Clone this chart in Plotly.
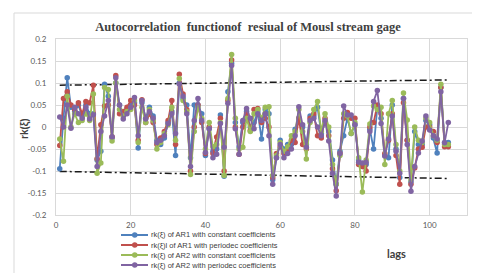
import plotly.graph_objects as go

lags = list(range(1, 106))

ar1_const = [-0.095, 0.02, 0.112, 0.045, 0.035, 0.05, 0.025, 0.05, 0.03, 0.03,
             -0.075, -0.055, 0.097, 0.07, -0.025, 0.1, 0.05, 0.03, 0.04, 0.05,
             0.055, -0.048, 0.055, 0.02, 0.045, 0.025, -0.03, -0.04, -0.025, 0.01,
             0.035, -0.065, 0.1, 0.065, 0.05, -0.07, 0.05, 0.05, 0.03, -0.065,
             -0.004, -0.055, -0.05, 0.027, -0.112, 0.08, 0.145, 0.01, -0.045, 0.01,
             0.035, 0.0, 0.01, 0.035, -0.027, 0.04, 0.03, -0.12, -0.07, -0.03,
             -0.05, -0.04, -0.04, -0.005, 0.02, 0.0, -0.04, 0.025, 0.025, 0.045,
             -0.015, 0.01, -0.01, -0.075, -0.13, -0.055, -0.02, 0.02, -0.015, 0.005,
             -0.075, -0.09, -0.085, -0.005, -0.05, 0.045, 0.02, -0.065, -0.07, 0.05,
             -0.05, -0.115, 0.065, -0.03, -0.125, -0.01, -0.04, -0.04, 0.015, 0.005,
             -0.025, -0.059, 0.09, -0.035, -0.035]

ar1_period = [-0.042, 0.065, 0.08, 0.05, 0.04, 0.055, 0.03, 0.058, 0.055, 0.095,
              -0.072, 0.005, 0.048, 0.05, -0.022, 0.117, 0.03, 0.035, 0.045, 0.06,
              0.05, -0.03, 0.062, 0.01, 0.03, 0.01, -0.04, -0.025, -0.01, 0.015,
              0.06, -0.04, 0.12, 0.075, 0.04, -0.1, 0.0, 0.05, 0.01, -0.06,
              0.0, -0.06, -0.023, 0.02, -0.1, 0.06, 0.152, 0.0, -0.062, 0.0,
              0.03, -0.008, 0.04, 0.042, 0.01, 0.02, 0.0, -0.115, -0.06, -0.045,
              -0.06, -0.05, -0.03, -0.035, 0.02, -0.04, -0.05, 0.02, 0.03, -0.02,
              -0.025, 0.02, -0.02, -0.095, -0.145, -0.06, 0.02, 0.033, 0.02, 0.02,
              -0.085, -0.09, -0.1, 0.0, 0.01, 0.05, 0.03, -0.06, -0.03, 0.03,
              -0.065, -0.13, 0.055, -0.03, -0.13, -0.093, -0.05, -0.046, 0.0, 0.0,
              -0.01, -0.035, 0.09, -0.045, -0.045]

ar2_const = [-0.027, -0.078, 0.07, 0.0, 0.03, 0.01, 0.015, 0.03, 0.015, 0.075,
             -0.105, -0.082, 0.09, 0.085, -0.032, 0.1, 0.04, 0.025, 0.035, 0.04,
             0.06, -0.035, 0.045, 0.01, 0.04, 0.015, -0.05, -0.035, -0.015, 0.005,
             0.045, -0.03, 0.11, 0.06, 0.035, -0.108, -0.01, 0.045, 0.02, -0.05,
             0.01, -0.045, -0.04, 0.01, -0.11, 0.065, 0.165, 0.02, -0.05, -0.046,
             0.02, -0.01, 0.03, 0.04, 0.02, 0.045, 0.046, -0.11, -0.065, -0.035,
             -0.055, -0.045, -0.02, -0.01, 0.04, -0.01, -0.073, 0.01, 0.04, 0.058,
             -0.01, 0.03, 0.0, -0.085, -0.13, -0.065, 0.03, 0.025, -0.015, 0.01,
             -0.07, -0.148, -0.075, 0.007, 0.048, 0.04, 0.045, -0.085, 0.03, 0.06,
             -0.04, -0.1, 0.077, 0.016, -0.12, 0.0, -0.03, -0.035, 0.02, 0.01,
             -0.02, -0.03, 0.097, -0.04, -0.04]

ar2_period = [0.023, 0.0, 0.05, -0.003, 0.045, 0.03, 0.02, 0.045, 0.018, 0.028,
              -0.09, -0.01, 0.025, 0.06, -0.022, 0.112, 0.05, 0.018, 0.03, 0.045,
              0.067, -0.02, 0.06, 0.018, 0.035, 0.02, -0.035, -0.03, -0.02, 0.008,
              0.03, -0.015, 0.098, 0.07, 0.03, -0.09, 0.015, 0.065, 0.015, -0.058,
              -0.004, -0.07, -0.062, 0.008, -0.046, 0.054, 0.14, -0.004, -0.062, 0.015,
              0.042, 0.02, -0.004, 0.03, 0.015, 0.03, -0.02, -0.13, -0.07, -0.04,
              -0.07, -0.06, -0.05, -0.02, 0.046, 0.005, -0.046, 0.015, 0.02, 0.0,
              -0.02, 0.015, -0.032, -0.105, -0.157, -0.06, 0.048, 0.027, 0.027, 0.005,
              -0.08, -0.082, -0.08, -0.01, 0.058, 0.083, 0.008, -0.066, -0.027, 0.025,
              -0.055, -0.105, 0.065, -0.04, -0.146, -0.09, -0.059, -0.032, 0.025, -0.007,
              -0.02, -0.027, 0.08, -0.036, 0.01]

limit_lags = [1, 105]
upper_limit = [0.095, 0.107]
lower_limit = [-0.101, -0.117]

series_names = [
    "rk(\u03be) of AR1 with constant coefficients",
    "rk(\u03be)l of AR1 with periodec coefficients",
    "rk(\u03be) of AR2 with constant coefficients",
    "rk(\u03be) of AR2 with periodec coefficients",
]
colors = ["#4F81BD", "#C0504D", "#9BBB59", "#8064A2"]

x_ticks = [0, 20, 40, 60, 80, 100]
y_ticks = [-0.2, -0.15, -0.1, -0.05, 0, 0.05, 0.1, 0.15, 0.2]
y_tick_labels = ["-0.2", "-0.15", "-0.1", "-0.05", "0", "0.05", "0.1", "0.15", "0.2"]

W, H = 480, 273
L, R, T, B = 48, 21, 31, 66
pw, ph = W - L - R, H - T - B


def px(x):
    return (x - L) / pw


def py(y):
    return (H - B - y) / ph


fig = go.Figure()

for lim in (upper_limit, lower_limit):
    fig.add_trace(go.Scatter(x=limit_lags, y=lim, mode="lines",
                             line=dict(color="#1a1a1a", width=1.5, dash="7px,3px,2px,3px"),
                             hoverinfo="skip", showlegend=False))

for vals, name, c in zip([ar1_const, ar1_period, ar2_const, ar2_period], series_names, colors):
    fig.add_trace(go.Scatter(x=lags, y=vals, mode="lines+markers", name=name,
                             line=dict(color=c, width=1.8),
                             marker=dict(color=c, size=5.5),
                             showlegend=False))

shapes = []
annotations = []
# outer chart border
shapes.append(dict(type="rect", xref="paper", yref="paper",
                   x0=px(6), x1=px(472), y0=py(267), y1=py(5),
                   line=dict(color="#D9D9D9", width=1), layer="below"))
# custom legend
rows = [227.0, 237.0, 247.0, 257.0]
for name, c, ry in zip(series_names, colors, rows):
    shapes.append(dict(type="line", xref="paper", yref="paper",
                       x0=px(113), x1=px(140), y0=py(ry), y1=py(ry),
                       line=dict(color=c, width=2)))
    shapes.append(dict(type="circle", xref="paper", yref="paper",
                       x0=px(124), x1=px(129.5), y0=py(ry + 2.75), y1=py(ry - 2.75),
                       fillcolor=c, line=dict(color=c, width=0)))
    annotations.append(dict(text=name, xref="paper", yref="paper", x=px(142), y=py(ry),
                            xanchor="left", yanchor="middle", showarrow=False,
                            height=9, valign="middle", borderpad=0,
                            font=dict(family="Liberation Sans", size=7.5, color="#404040")))

annotations.append(dict(text="<b>rk(\u03be)</b>", xref="paper", yref="paper",
                        x=px(17), y=py(120), textangle=-90, showarrow=False,
                        xanchor="center", yanchor="middle",
                        font=dict(family="Liberation Sans", size=10, color="#404040")))
annotations.append(dict(text="<b>lags</b>", xref="paper", yref="paper",
                        x=px(388), y=py(245), showarrow=False,
                        xanchor="center", yanchor="middle",
                        font=dict(family="Lato", size=11, color="#404040")))

fig.update_layout(
    width=W, height=H,
    margin=dict(l=L, r=R, t=T, b=B),
    paper_bgcolor="white", plot_bgcolor="white",
    title=dict(text="<b>Autocorrelation \u00a0functionof \u00a0resiual of Mousl stream gage</b>",
               x=0.5, xanchor="center", y=1 - 19 / H, yanchor="middle",
               font=dict(family="Liberation Serif", size=12.5, color="#404040")),
    xaxis=dict(range=[0, 110], tickvals=x_ticks, showgrid=True, gridcolor="#D9D9D9",
               gridwidth=1, zeroline=False, showline=True, linecolor="#D9D9D9",
               mirror=True, ticks="", ticklabelstandoff=2,
               tickfont=dict(family="Lato", size=8, color="#595959")),
    yaxis=dict(range=[-0.2, 0.2], tickvals=y_ticks, ticktext=y_tick_labels,
               showgrid=True, gridcolor="#D9D9D9", gridwidth=1, zeroline=False,
               showline=True, linecolor="#D9D9D9", mirror=True, ticks="",
               ticklabelstandoff=7,
               tickfont=dict(family="Lato", size=8, color="#595959")),
    shapes=shapes, annotations=annotations,
    showlegend=False,
)

fig.write_html("out.html")
